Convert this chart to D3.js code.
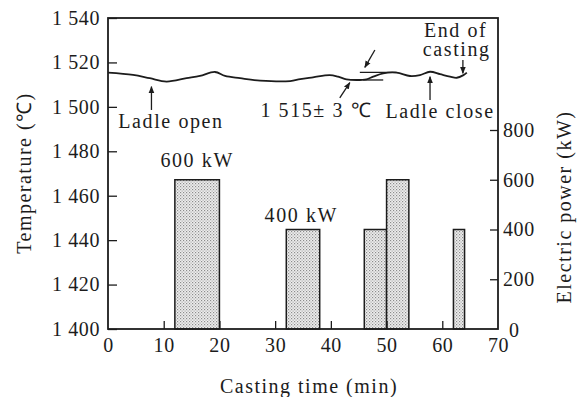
<!DOCTYPE html>
<html>
<head>
<meta charset="utf-8">
<script src="https://cdn.jsdelivr.net/npm/d3@7"></script>
<style>
  body { margin: 0; background: #fff; }
</style>
</head>
<body>
<div id="chart"></div>
<script>
// temperature trace (min, °C)
const traceTime = [0, 4.5, 7.5, 10.5, 14.1, 16.5, 19.2, 21, 23.7, 27.3, 32.7, 34.5, 36.8, 39.8, 41.3, 42.8, 44.6, 46.4, 47.6, 49.4, 51.8, 54.2, 56, 57.8, 59.6, 61.4, 62.6, 63.8, 64.4];
const traceTemp = [1515.4, 1514.4, 1512.9, 1511.4, 1512.9, 1513.9, 1515.7, 1513.9, 1512.9, 1511.8, 1511.6, 1512.5, 1513.3, 1514.3, 1513.6, 1512.4, 1512.1, 1512.4, 1513.6, 1515.1, 1515.4, 1513.9, 1514.3, 1515.8, 1514.7, 1513.6, 1513.1, 1514.3, 1515.4];

// electric power blocks
const powerStart = [12, 32, 46, 50, 62];
const powerEnd = [20, 38, 50, 54, 64];
const powerKW = [600, 400, 400, 600, 400];

const tempTicks = [1400, 1420, 1440, 1460, 1480, 1500, 1520, 1540];
const timeTicks = [0, 10, 20, 30, 40, 50, 60, 70];
const powerTicks = [0, 200, 400, 600, 800];

const FONT = 'Liberation Serif';
const INK = '#1c1c1c';

let margin = { top: 18, right: 86, bottom: 68, left: 108 };
let width = 584 - margin.left - margin.right;
let height = 397 - margin.top - margin.bottom;

let svg = d3.select('#chart')
    .append('svg')
    .attr('width', 584)
    .attr('height', 397);

let defs = svg.append('defs');
let pat = defs.append('pattern')
    .attr('id', 'dots')
    .attr('patternUnits', 'userSpaceOnUse')
    .attr('width', 3)
    .attr('height', 3);
pat.append('rect').attr('width', 3).attr('height', 3).attr('fill', '#eeeeee');
pat.append('rect').attr('width', 1.2).attr('height', 1.2).attr('fill', '#8c8c8c');
pat.append('rect').attr('x', 1.5).attr('y', 1.5).attr('width', 1.2).attr('height', 1.2).attr('fill', '#a8a8a8');

defs.append('marker')
    .attr('id', 'arrow')
    .attr('viewBox', '0 0 10 10')
    .attr('refX', 9).attr('refY', 5)
    .attr('markerWidth', 7).attr('markerHeight', 7)
    .attr('markerUnits', 'userSpaceOnUse')
    .attr('orient', 'auto')
    .append('path')
    .attr('d', 'M0,1 L10,5 L0,9 Z')
    .attr('fill', INK);

let g = svg.append('g')
    .attr('transform', `translate(${margin.left}, ${margin.top})`);

let x = d3.scaleLinear().domain([0, 70]).range([0, width]);
let yT = d3.scaleLinear().domain([1400, 1540]).range([height, 0]);
let yP = d3.scaleLinear().domain([0, 800]).range([height, 112]);

// bars
let bars = powerStart.map((s, i) => ({ s: s, e: powerEnd[i], p: powerKW[i] }));
g.selectAll('rect.bar')
    .data(bars)
    .enter()
    .append('rect')
    .attr('class', 'bar')
    .attr('x', d => x(d.s))
    .attr('y', d => yP(d.p))
    .attr('width', d => x(d.e) - x(d.s))
    .attr('height', d => height - yP(d.p))
    .attr('fill', 'url(#dots)')
    .attr('stroke', INK)
    .attr('stroke-width', 1.5);

// axes (ticks pointing inwards)
let axL = d3.axisLeft(yT).tickValues(tempTicks).tickSize(-9).tickPadding(8)
    .tickFormat(d => String(d).replace(/^(\d)(\d{3})$/, '$1 $2'));
let axB = d3.axisBottom(x).tickValues(timeTicks).tickSize(-8).tickPadding(9);
let axR = d3.axisRight(yP).tickValues(powerTicks).tickSize(-8).tickPadding(5);

function styleAxis(sel) {
    sel.attr('font-family', FONT).attr('font-size', 20);
    sel.select('.domain').remove();
    sel.selectAll('line').attr('stroke', INK).attr('stroke-width', 1.3);
    sel.selectAll('text').attr('fill', INK).style('letter-spacing', '0.6px');
}

g.append('g').call(axL).call(styleAxis);
let gB = g.append('g').attr('transform', `translate(0, ${height})`).call(axB).call(styleAxis);
gB.selectAll('.tick').filter(d => d === 0 || d === 70).select('line').remove();
let gR = g.append('g').attr('transform', `translate(${width}, 0)`).call(axR).call(styleAxis);
gR.selectAll('.tick').filter(d => d === 0).select('line').remove();
gR.selectAll('.tick').filter(d => d === 0).select('text').attr('x', 11).attr('dy', '0.38em');

// frame
g.append('rect')
    .attr('width', width)
    .attr('height', height)
    .attr('fill', 'none')
    .attr('stroke', INK)
    .attr('stroke-width', 1.8);

// temperature trace
let line = d3.line()
    .x((d, i) => x(traceTime[i]))
    .y(d => yT(d))
    .curve(d3.curveCatmullRom);
g.append('path')
    .datum(traceTemp)
    .attr('d', line)
    .attr('fill', 'none')
    .attr('stroke', INK)
    .attr('stroke-width', 1.8);

// tolerance band marks
let bandFrom = [45.2, 45.8];
let bandTo = [51.8, 49.4];
let bandTemp = [1515.5, 1512.1];
g.selectAll('line.band')
    .data(bandTemp)
    .enter()
    .append('line')
    .attr('x1', (d, i) => x(bandFrom[i]))
    .attr('x2', (d, i) => x(bandTo[i]))
    .attr('y1', d => yT(d))
    .attr('y2', d => yT(d))
    .attr('stroke', INK)
    .attr('stroke-width', 1.3);

// arrows: [t0, temp0, t1, temp1]
let arrows = [
    [7.8, 1498.6, 7.8, 1509.1],
    [41.6, 1504, 43.4, 1510.9],
    [47.9, 1525.6, 46.1, 1517.8],
    [57.8, 1503.1, 57.8, 1513.6],
    [63.7, 1521.1, 63.7, 1515.1]
];
g.selectAll('line.arrow')
    .data(arrows)
    .enter()
    .append('line')
    .attr('x1', d => x(d[0])).attr('y1', d => yT(d[1]))
    .attr('x2', d => x(d[2])).attr('y2', d => yT(d[3]))
    .attr('stroke', INK)
    .attr('stroke-width', 1.3)
    .attr('marker-end', 'url(#arrow)');

// annotations
let notes = [
    ['Ladle open', 11.3, 1490.5],
    ['600 kW', 16, 1473],
    ['400 kW', 34.7, 1448],
    ['1 515± 3 ℃', 37.4, 1495.4],
    ['Ladle close', 59.6, 1495],
    ['End of', 62.4, 1531.6],
    ['casting', 62.6, 1523]
];
g.selectAll('text.note')
    .data(notes)
    .enter()
    .append('text')
    .attr('x', d => x(d[1]))
    .attr('y', d => yT(d[2]))
    .attr('text-anchor', 'middle')
    .attr('fill', INK)
    .attr('font-family', FONT)
    .attr('font-size', 20)
    .style('letter-spacing', '1.6px')
    .text(d => d[0]);

// axis titles
let titles = [
    ['Casting time (min)', 'translate(309, 393)'],
    ['Temperature (℃)', 'translate(31, 173) rotate(-90)'],
    ['Electric power (kW)', 'translate(571, 207) rotate(-90)']
];
svg.selectAll('text.title')
    .data(titles)
    .enter()
    .append('text')
    .attr('transform', d => d[1])
    .attr('text-anchor', 'middle')
    .attr('fill', INK)
    .attr('font-family', FONT)
    .attr('font-size', 20)
    .style('letter-spacing', '1.5px')
    .text(d => d[0]);
</script>
</body>
</html>
